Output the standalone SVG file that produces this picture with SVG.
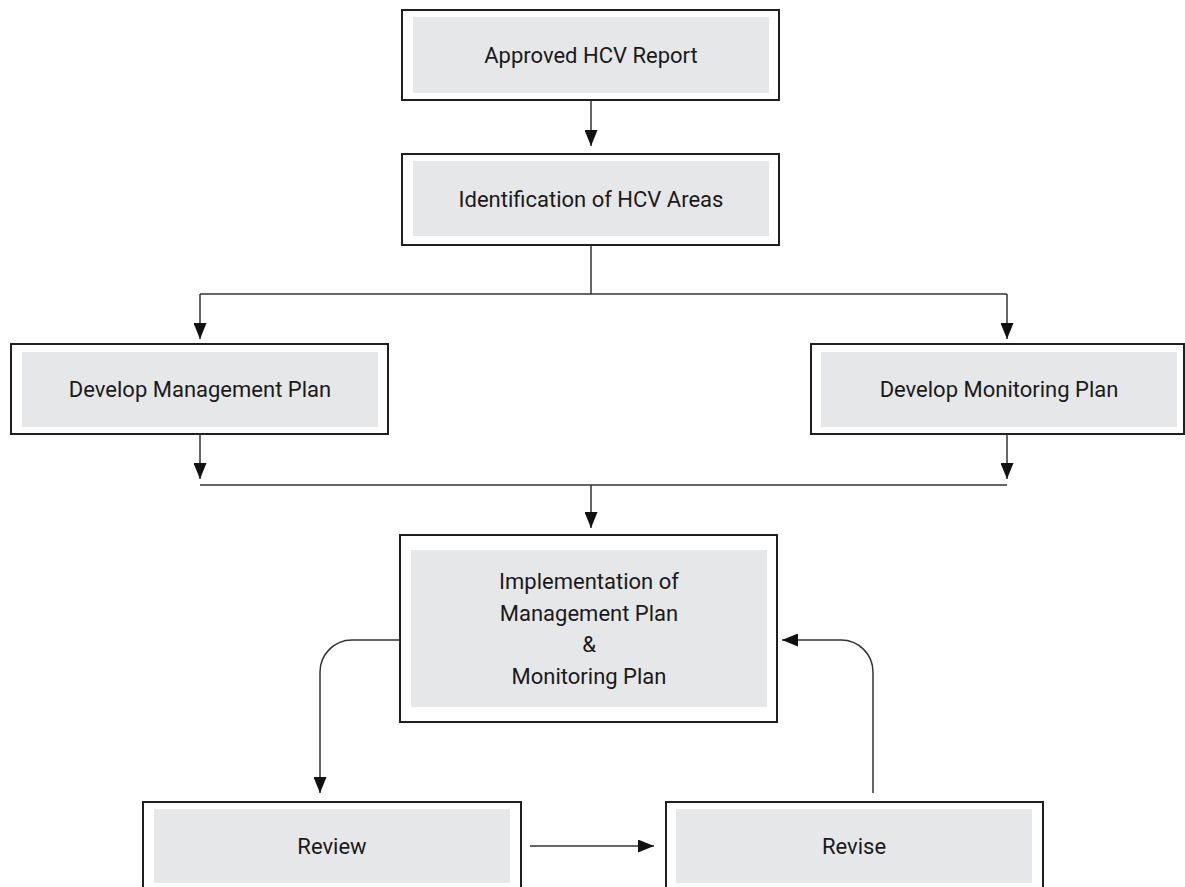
<svg xmlns="http://www.w3.org/2000/svg" width="1185" height="887" viewBox="0 0 1185 887">
  <style>
    .frame { fill: #ffffff; stroke: #1f1f1f; stroke-width: 2; }
    .panel { fill: #e6e7e8; stroke: none; }
    .label { font-family: Roboto, "Liberation Sans", sans-serif; font-size: 22px; fill: #1a1a1a; text-anchor: middle; }
    .wire { fill: none; stroke: #333333; stroke-width: 1.5; }
  </style>
  <defs>
    <marker id="arrow" markerUnits="userSpaceOnUse" markerWidth="16" markerHeight="13" refX="16" refY="6.5" orient="auto">
      <path d="M0,0 L16,6.5 L0,13 Z" fill="#111111"/>
    </marker>
  </defs>

  <rect width="1185" height="887" fill="#ffffff"/>

  <g id="node-approved-report">
    <rect class="frame" x="402" y="10" width="377" height="90"/>
    <rect class="panel" x="413" y="17" width="356" height="76"/>
    <text class="label" x="591" y="63">Approved HCV Report</text>
  </g>

  <g id="node-identification">
    <rect class="frame" x="402" y="154" width="377" height="91"/>
    <rect class="panel" x="413" y="161" width="356" height="75"/>
    <text class="label" x="591" y="207">Identification of HCV Areas</text>
  </g>

  <g id="node-management-plan">
    <rect class="frame" x="11" y="344" width="377" height="90"/>
    <rect class="panel" x="22" y="352" width="356" height="75"/>
    <text class="label" x="200" y="397">Develop Management Plan</text>
  </g>

  <g id="node-monitoring-plan">
    <rect class="frame" x="811" y="344" width="373" height="90"/>
    <rect class="panel" x="821" y="352" width="356" height="75"/>
    <text class="label" x="999" y="397">Develop Monitoring Plan</text>
  </g>

  <g id="node-implementation">
    <rect class="frame" x="400" y="535" width="377" height="187"/>
    <rect class="panel" x="411" y="550" width="356" height="157"/>
    <text class="label" x="589" y="589">Implementation of</text>
    <text class="label" x="589" y="621">Management Plan</text>
    <text class="label" x="589" y="652">&amp;</text>
    <text class="label" x="589" y="684">Monitoring Plan</text>
  </g>

  <g id="node-review">
    <rect class="frame" x="143" y="802" width="378" height="92"/>
    <rect class="panel" x="154" y="809" width="356" height="74"/>
    <text class="label" x="332" y="854">Review</text>
  </g>

  <g id="node-revise">
    <rect class="frame" x="666" y="802" width="377" height="92"/>
    <rect class="panel" x="676" y="809" width="356" height="74"/>
    <text class="label" x="854" y="854">Revise</text>
  </g>

  <g id="connectors">
    <!-- report to identification -->
    <line class="wire" x1="591" y1="100" x2="591" y2="146" marker-end="url(#arrow)"/>
    <!-- split into the two plans -->
    <line class="wire" x1="591" y1="245" x2="591" y2="294"/>
    <line class="wire" x1="200" y1="294" x2="1007" y2="294"/>
    <line class="wire" x1="200" y1="294" x2="200" y2="339" marker-end="url(#arrow)"/>
    <line class="wire" x1="1007" y1="294" x2="1007" y2="339" marker-end="url(#arrow)"/>
    <!-- plans merge into implementation -->
    <line class="wire" x1="200" y1="434" x2="200" y2="479" marker-end="url(#arrow)"/>
    <line class="wire" x1="1007" y1="434" x2="1007" y2="479" marker-end="url(#arrow)"/>
    <line class="wire" x1="200" y1="485" x2="1007" y2="485"/>
    <line class="wire" x1="591" y1="485" x2="591" y2="528" marker-end="url(#arrow)"/>
    <!-- implementation to review -->
    <path class="wire" d="M400,640 H352 A32,32 0 0 0 320,672 V793" marker-end="url(#arrow)"/>
    <!-- review to revise -->
    <line class="wire" x1="530" y1="846" x2="654" y2="846" marker-end="url(#arrow)"/>
    <!-- revise back to implementation -->
    <path class="wire" d="M873,793 V672 A32,32 0 0 0 841,640 H782" marker-end="url(#arrow)"/>
  </g>
</svg>
